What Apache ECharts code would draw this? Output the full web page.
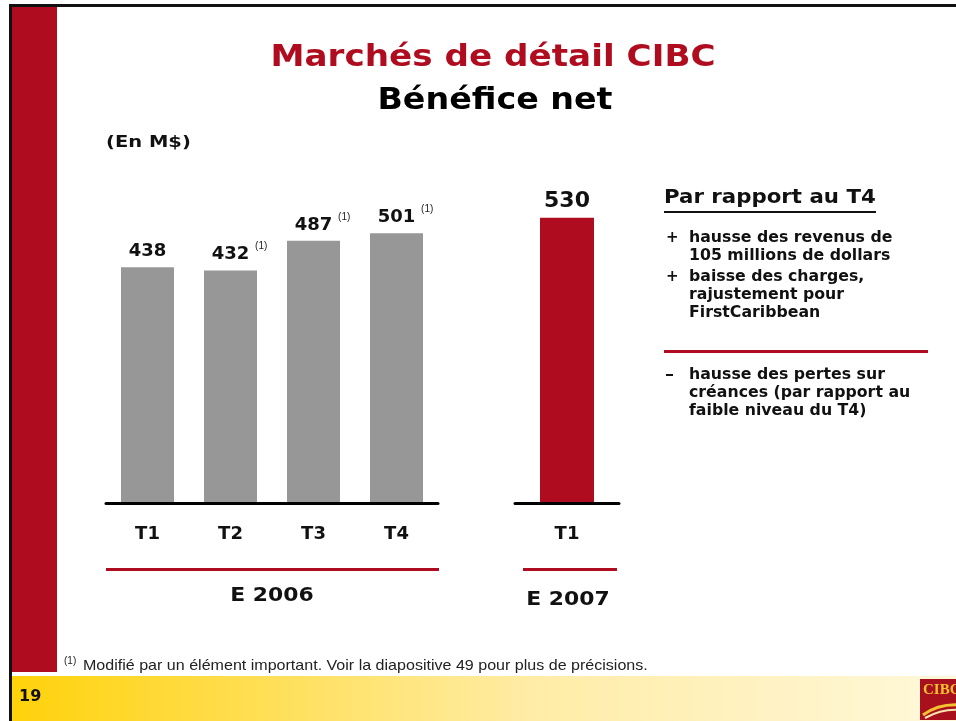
<!DOCTYPE html>
<html>
<head>
<meta charset="utf-8">
<script src="https://cdn.jsdelivr.net/npm/echarts@6/dist/echarts.min.js"></script>
<style>
  html, body { margin: 0; padding: 0; background: #fff; }
  #main { width: 956px; height: 721px; }
</style>
</head>
<body>
<div id="main"></div>
<script>
// data
const quarters2006 = ['T1', 'T2', 'T3', 'T4'];
const profit2006 = [438, 432, 487, 501];
const noted2006 = [false, true, true, true];   // values marked (1)
const quarters2007 = ['T1'];
const profit2007 = [530];

const FONT = 'DejaVu Sans';
const RED = '#AF0D1F';
const GREY = '#979797';
const INK = '#111';

const chart = echarts.init(document.getElementById('main'));

function valueLabel(notes, size, dist) {
  return {
    show: true,
    position: 'top',
    distance: dist,
    formatter: function (p) {
      if (notes && notes[p.dataIndex]) {
        return '{pad|}{v|' + p.value + '}{s|(1)}';
      }
      return '{v|' + p.value + '}';
    },
    rich: {
      v: { fontFamily: FONT, fontSize: size, fontWeight: 'bold', color: INK, lineHeight: size + 4, verticalAlign: 'bottom' },
      s: { fontFamily: 'Liberation Sans', fontSize: 10, color: '#222', lineHeight: 10, width: 18, align: 'right',
           verticalAlign: 'top', padding: [0, 0, 24, 0] },
      pad: { width: 18 }
    }
  };
}

const catAxis = (idx, data) => ({
  type: 'category',
  gridIndex: idx,
  data: data,
  z: 5,
  axisLine: { lineStyle: { color: '#000', width: 3 } },
  axisTick: { show: false },
  axisLabel: { margin: 22, fontFamily: FONT, fontSize: 18, fontWeight: 'bold', color: INK }
});

const valAxis = idx => ({
  type: 'value', gridIndex: idx, min: 0, max: 600, show: false
});

// text placed by its anchor point, stretched a little to match the slide's wide face
function label(x, y, text, size, opts) {
  opts = opts || {};
  return {
    type: 'text', x: x, y: y, scaleX: opts.sx || 1,
    style: {
      text: text,
      font: (opts.normal ? '' : 'bold ') + size + 'px "' + (opts.family || FONT) + '"',
      fill: opts.color || INK,
      align: opts.align || 'left',
      verticalAlign: opts.va || 'middle',
      lineHeight: opts.lh || size
    }
  };
}

chart.setOption({
  animation: false,
  grid: [
    { left: 106, width: 332, top: 180, bottom: 218 },
    { left: 515, width: 104, top: 180, bottom: 218 }
  ],
  xAxis: [catAxis(0, quarters2006), catAxis(1, quarters2007)],
  yAxis: [valAxis(0), valAxis(1)],
  series: [
    {
      type: 'bar', xAxisIndex: 0, yAxisIndex: 0, data: profit2006,
      barWidth: 53, itemStyle: { color: GREY }, label: valueLabel(noted2006, 18, 7)
    },
    {
      type: 'bar', xAxisIndex: 1, yAxisIndex: 1, data: profit2007,
      barWidth: 54, itemStyle: { color: RED }, label: valueLabel(null, 22, 5)
    }
  ],
  graphic: [
    // slide frame
    { type: 'rect', shape: { x: 9, y: 4, width: 947, height: 3 }, style: { fill: '#111' }, z: 10 },
    { type: 'rect', shape: { x: 9, y: 4, width: 3, height: 717 }, style: { fill: '#111' }, z: 10 },
    { type: 'rect', shape: { x: 12, y: 7, width: 45, height: 665 }, style: { fill: RED } },
    // footer band
    {
      type: 'rect', shape: { x: 12, y: 676, width: 944, height: 45 },
      style: {
        fill: new echarts.graphic.LinearGradient(0, 0, 1, 0, [
          { offset: 0, color: '#FFD20A' },
          { offset: 0.55, color: '#FFECA6' },
          { offset: 1, color: '#FFF8DA' }
        ])
      }
    },
    label(19, 697, '19', 16),
    // logo
    {
      type: 'group', x: 920, y: 679,
      children: [
        { type: 'rect', shape: { x: 0, y: 0, width: 40, height: 41 }, style: { fill: '#A8101E' } },
        { type: 'text', x: 3, y: 4, style: { text: 'CIBC', font: 'bold 15px "Liberation Serif"', fill: '#F2C230' } },
        { type: 'bezierCurve', shape: { x1: 3, y1: 36, x2: 40, y2: 26, cpx1: 14, cpy1: 28, cpx2: 26, cpy2: 25 },
          style: { stroke: '#F2C230', lineWidth: 3, fill: null } },
        { type: 'bezierCurve', shape: { x1: 5, y1: 39, x2: 40, y2: 31, cpx1: 16, cpy1: 33, cpx2: 28, cpy2: 30 },
          style: { stroke: '#F6E7B0', lineWidth: 2, fill: null } }
      ]
    },
    // titles
    label(493, 58, 'Marchés de détail CIBC', 30, { align: 'center', color: RED, sx: 1.14 }),
    label(495, 101, 'Bénéfice net', 30, { align: 'center', color: '#000', sx: 1.11 }),
    label(106, 143, '(En M$)', 15, { sx: 1.3 }),
    // year brackets
    { type: 'rect', shape: { x: 106, y: 568, width: 333, height: 3 }, style: { fill: RED } },
    { type: 'rect', shape: { x: 523, y: 568, width: 94, height: 3 }, style: { fill: RED } },
    label(272, 596, 'E 2006', 19, { align: 'center', sx: 1.15 }),
    label(568, 600, 'E 2007', 19, { align: 'center', sx: 1.15 }),
    // commentary
    label(664, 198, 'Par rapport au T4', 20, { sx: 1.065 }),
    { type: 'rect', shape: { x: 664, y: 211, width: 212, height: 2 }, style: { fill: INK } },
    label(666, 229, '+', 15, { va: 'top', lh: 18 }),
    label(689, 229, 'hausse des revenus de\n105 millions de dollars', 15, { va: 'top', lh: 18, sx: 1.05 }),
    label(666, 268, '+', 15, { va: 'top', lh: 18 }),
    label(689, 268, 'baisse des charges,\nrajustement pour\nFirstCaribbean', 15, { va: 'top', lh: 18, sx: 1.05 }),
    { type: 'rect', shape: { x: 664, y: 350, width: 264, height: 3 }, style: { fill: RED } },
    label(665, 366, '–', 15, { va: 'top', lh: 18, sx: 1.2 }),
    label(689, 366, 'hausse des pertes sur\ncréances (par rapport au\nfaible niveau du T4)', 15, { va: 'top', lh: 18, sx: 1.05 }),
    // footnote
    label(64, 661, '(1)', 10, { normal: true, family: 'Liberation Sans', color: '#222' }),
    label(83, 666, 'Modifié par un élément important. Voir la diapositive 49 pour plus de précisions.', 15,
      { normal: true, family: 'Liberation Sans', color: '#222', sx: 1.07 })
  ]
});
</script>
</body>
</html>
